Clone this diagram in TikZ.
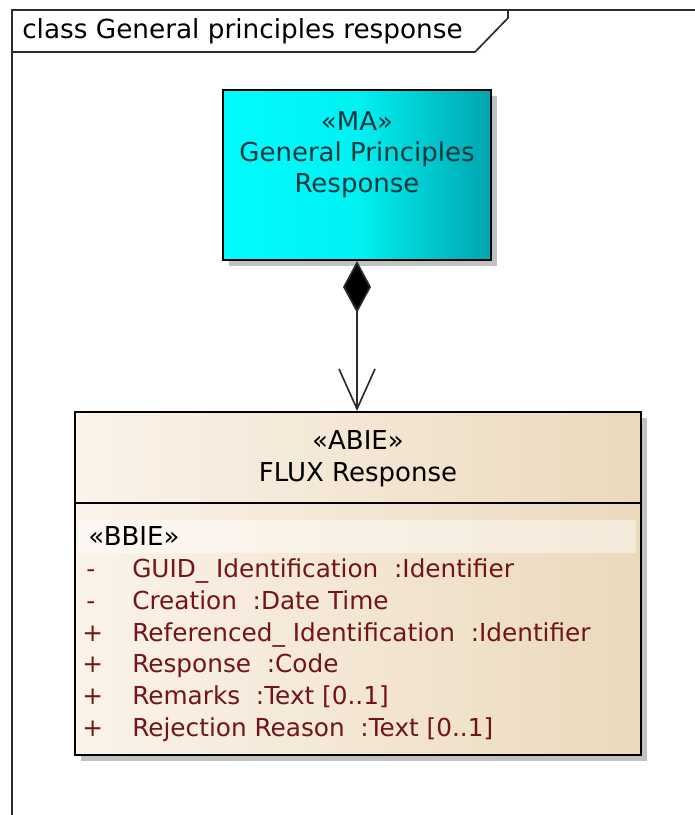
\documentclass[tikz,border=0pt]{standalone}
\usepackage{fontspec}
\setmainfont{DejaVu Sans}
\usetikzlibrary{%
        arrows.meta,
        shadows
    }
\definecolor{frame-gray}{RGB}{45, 45, 45}
\definecolor{ma-cyan}{RGB}{0, 252, 252}
\definecolor{ma-teal}{RGB}{0, 165, 175}
\definecolor{ma-text}{RGB}{15, 55, 60}
\definecolor{abie-light}{RGB}{251, 243, 234}
\definecolor{abie-dark}{RGB}{235, 217, 188}
\definecolor{attr-red}{RGB}{115, 20, 25}
\tikzset{%
    uml-box/.style={%
        draw=black,
        line width=1.4pt,
        drop shadow={shadow xshift=0.14cm, shadow yshift=-0.14cm,
            opacity=0.35, fill=black!70}
    },
    stereo/.style={%
        font=\fontsize{18.5}{22}\selectfont,
        inner sep=0pt,
        text height=13pt,
        text depth=4pt
    },
    attr/.style={%
        font=\fontsize{17.6}{21}\selectfont,
        text=attr-red,
        anchor=west,
        inner sep=0pt,
        text height=13pt,
        text depth=4pt
    }
}

\begin{document}
\begin{tikzpicture}

    \useasboundingbox (0, 0) rectangle (17.375, -20.375);

    % Frame
    \draw[frame-gray, line width=1.4pt]
        (0.3, -20.375) -- (0.3, -0.25) -- (17.375, -0.25);
    \draw[frame-gray, line width=1.2pt]
        (0.3, -1.3) -- (11.875, -1.3) -- (12.7, -0.45) -- (12.7, -0.25);
    \node[stereo, anchor=west, font=\fontsize{18.7}{22}\selectfont] (frame-title)
        at (0.55, -0.8) {class General principles response};

    % General principles response
    \node[%
        uml-box,
        left color=ma-cyan,
        right color=ma-teal,
        middle color=ma-cyan!88!ma-teal,
        minimum width=6.7cm,
        minimum height=4.25cm
    ] (ma) at (8.925, -4.375) {};

    \node[stereo, text=ma-text] (ma-stereo) at (8.925, -3.1) {«MA»};
    \node[stereo, text=ma-text] (ma-name) at (8.925, -3.88)
        {General Principles};
    \node[stereo, text=ma-text] (ma-name2) at (8.925, -4.66) {Response};

    % FLUX response
    \node[%
        uml-box,
        left color=abie-light,
        right color=abie-dark,
        minimum width=14.15cm,
        minimum height=8.575cm
    ] (abie) at (8.95, -14.5875) {};

    \draw[line width=1.4pt] (abie.west |- 0, -12.575) -- (abie.east |- 0, -12.575);
    \fill[white, opacity=0.45] (1.95, -13.0) rectangle (15.9, -13.825);

    \node[stereo] (abie-stereo) at (8.95, -11.08) {«ABIE»};
    \node[stereo] (abie-name) at (8.95, -11.88) {FLUX Response};
    \node[stereo, anchor=west] (bbie) at (2.2, -13.48) {«BBIE»};

    \node[attr] (vis-1) at (2.15, -14.28) {-};
    \node[attr] (vis-2) at (2.15, -15.08) {-};
    \node[attr] (vis-3) at (2.05, -15.88) {+};
    \node[attr] (vis-4) at (2.05, -16.655) {+};
    \node[attr] (vis-5) at (2.05, -17.455) {+};
    \node[attr] (vis-6) at (2.05, -18.255) {+};

    \node[attr] (attr-1) at (3.3, -14.28)
        {GUID\_ Identification\ \ :Identifier};
    \node[attr] (attr-2) at (3.3, -15.08) {Creation\ \ :Date Time};
    \node[attr] (attr-3) at (3.3, -15.88)
        {Referenced\_ Identification\ \ :Identifier};
    \node[attr] (attr-4) at (3.3, -16.655) {Response\ \ :Code};
    \node[attr] (attr-5) at (3.3, -17.455) {Remarks\ \ :Text [0..1]};
    \node[attr] (attr-6) at (3.3, -18.255) {Rejection Reason\ \ :Text [0..1]};

    % Composition
    \draw[%
        {Diamond[fill=black, length=1.3cm, width=0.7cm]}-{Straight Barb[length=1cm, width=0.9cm, line width=1.2pt]},
        line width=1.2pt,
        frame-gray
    ] (ma.south) -- (ma.south |- abie.north);

\end{tikzpicture}
\end{document}
